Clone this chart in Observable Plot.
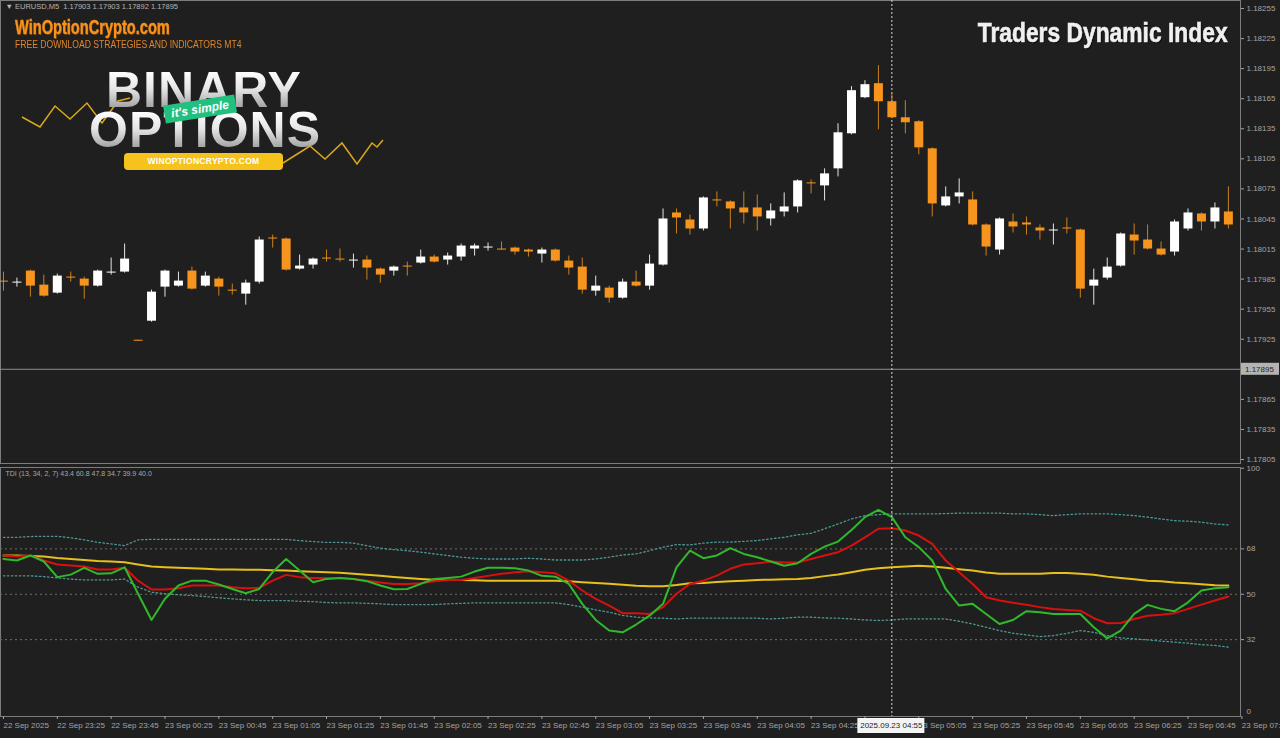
<!DOCTYPE html>
<html>
<head>
<meta charset="utf-8">
<script src="https://cdn.jsdelivr.net/npm/d3@7"></script>
<script src="https://cdn.jsdelivr.net/npm/@observablehq/plot@0.6"></script>
<style>
html,body{margin:0;padding:0;background:#1f1f1f;width:1280px;height:738px;overflow:hidden;}
#wrap{position:relative;width:1280px;height:738px;background:#1f1f1f;}
#top{position:absolute;left:0;top:0;}
#bottom{position:absolute;left:0;top:465px;}
.ov{position:absolute;white-space:nowrap;font-family:'Liberation Sans',Arial,sans-serif;}
#brand{left:15px;top:17px;font-size:20px;line-height:20px;font-weight:bold;color:#f7931e;transform:scaleX(0.73);transform-origin:left;text-shadow:1px 1px 0 #6b3600;-webkit-text-stroke:0.4px #f7931e;}
#sub{left:15px;top:40px;font-size:10px;line-height:10px;color:#e0862a;transform:scaleX(0.86);transform-origin:left;}
.big{font-size:50px;line-height:39px;font-weight:bold;letter-spacing:1px;background:linear-gradient(#ffffff 0%,#e6e6e6 45%,#9a9a9a 100%);-webkit-background-clip:text;background-clip:text;color:transparent;}
#bin{left:106px;top:71px;}
#opt{left:89px;top:111px;}
#tag{left:164px;top:100px;width:72px;height:18px;background:#22c07f;color:#fff;font-size:12px;line-height:18px;font-weight:bold;font-style:italic;text-align:center;transform:rotate(-9deg);}
#btn{left:124px;top:153px;width:159px;height:17px;background:#f6c31c;border-radius:4px;color:#fff;font-size:8.5px;line-height:17px;font-weight:bold;text-align:center;letter-spacing:0.3px;}
#title{right:52px;top:19px;font-size:28px;line-height:28px;font-weight:bold;color:#f0f0f0;transform:scaleX(0.815);transform-origin:right;text-shadow:1px 1px 1px #000;-webkit-text-stroke:0.6px #f0f0f0;}
#zig{position:absolute;left:0;top:0;}
</style>
</head>
<body>
<div id="wrap">
  <div id="top"></div>
  <div id="bottom"></div>
  <svg id="zig" width="400" height="180">
    <polyline points="22,117 40,127 55,106 70,119 87,103 102,123 118,101 130,98" fill="none" stroke="#d9a91a" stroke-width="1.5"/>
    <polyline points="283,163 310,146 325,159 342,143 357,164 372,143 377,147 383,140" fill="none" stroke="#d9a91a" stroke-width="1.5"/>
  </svg>
  <div class="ov" id="brand">WinOptionCrypto.com</div>
  <div class="ov" id="sub">FREE DOWNLOAD STRATEGIES AND INDICATORS MT4</div>
  <div class="ov big" id="bin">BINARY</div>
  <div class="ov big" id="opt">OPTIONS</div>
  <div class="ov" id="tag">it's simple</div>
  <div class="ov" id="btn">WINOPTIONCRYPTO.COM</div>
  <div class="ov" id="title">Traders Dynamic Index</div>
</div>
<script>
// ---- Price data (EURUSD M5), one entry per candle ----
const opens = [1.17983,1.17981,1.17993,1.17979,1.17971,1.17987,1.17985,1.17978,1.17991,1.17992,
1.17924,1.17943,1.17977,1.17978,1.17993,1.17978,1.17985,1.17974,1.17970,1.17982,
1.18026,1.18025,1.17995,1.17999,1.18006,1.18005,1.18003,1.18004,1.17995,1.17993,
1.17998,1.18001,1.18007,1.18004,1.18007,1.18015,1.18016,1.18015,1.18016,1.18014,
1.18010,1.18014,1.18003,1.17997,1.17973,1.17976,1.17966,1.17982,1.17978,1.17999,
1.18051,1.18044,1.18035,1.18064,1.18062,1.18056,1.18056,1.18045,1.18052,1.18057,
1.18081,1.18078,1.18095,1.18130,1.18166,1.18180,1.18162,1.18146,1.18142,1.18115,
1.18058,1.18067,1.18064,1.18039,1.18014,1.18042,1.18041,1.18036,1.18033,1.18036,
1.18034,1.17978,1.17986,1.17998,1.18029,1.18024,1.18015,1.18012,1.18035,1.18050,
1.18042,1.18052];
const highs = [1.17992,1.17986,1.17994,1.17989,1.17990,1.17992,1.17987,1.17994,1.18006,1.18020,
1.17924,1.17974,1.17994,1.17992,1.17997,1.17992,1.17987,1.17980,1.17984,1.18027,
1.18029,1.18026,1.18009,1.18006,1.18014,1.18015,1.18010,1.18008,1.17996,1.17998,
1.18002,1.18014,1.18009,1.18011,1.18020,1.18020,1.18021,1.18022,1.18017,1.18015,
1.18016,1.18015,1.18008,1.18006,1.17988,1.17978,1.17985,1.17993,1.18009,1.18055,
1.18055,1.18049,1.18067,1.18072,1.18063,1.18072,1.18069,1.18060,1.18071,1.18084,
1.18084,1.18095,1.18140,1.18177,1.18183,1.18198,1.18170,1.18163,1.18143,1.18116,
1.18077,1.18085,1.18072,1.18040,1.18046,1.18050,1.18047,1.18039,1.18040,1.18046,
1.18035,1.17995,1.18006,1.18031,1.18040,1.18039,1.18022,1.18044,1.18055,1.18051,
1.18061,1.18077];
const lows = [1.17973,1.17977,1.17967,1.17967,1.17970,1.17982,1.17965,1.17977,1.17989,1.17991,
1.17923,1.17942,1.17967,1.17977,1.17974,1.17977,1.17968,1.17969,1.17959,1.17980,
1.18016,1.17993,1.17994,1.17995,1.18002,1.18002,1.17996,1.17984,1.17981,1.17988,
1.17988,1.18000,1.18001,1.17999,1.18003,1.18008,1.18013,1.18014,1.18009,1.18007,
1.18001,1.18002,1.17989,1.17970,1.17968,1.17961,1.17965,1.17977,1.17974,1.17998,
1.18030,1.18029,1.18033,1.18057,1.18035,1.18040,1.18033,1.18038,1.18047,1.18051,
1.18070,1.18063,1.18087,1.18129,1.18165,1.18134,1.18145,1.18130,1.18109,1.18047,
1.18057,1.18060,1.18038,1.18008,1.18009,1.18031,1.18029,1.18024,1.18019,1.18030,
1.17966,1.17959,1.17984,1.17997,1.18009,1.18014,1.18008,1.18008,1.18033,1.18033,
1.18035,1.18035];
const closes = [1.17982,1.17982,1.17978,1.17968,1.17988,1.17986,1.17978,1.17993,1.17992,1.18005,
1.17923,1.17972,1.17993,1.17983,1.17975,1.17988,1.17977,1.17973,1.17981,1.18024,
1.18025,1.17994,1.17998,1.18005,1.18005,1.18004,1.18004,1.17996,1.17989,1.17997,
1.17997,1.18007,1.18002,1.18008,1.18018,1.18018,1.18017,1.18014,1.18012,1.18012,
1.18014,1.18003,1.17996,1.17974,1.17978,1.17966,1.17982,1.17978,1.18000,1.18045,
1.18046,1.18035,1.18066,1.18063,1.18055,1.18051,1.18047,1.18053,1.18057,1.18083,
1.18080,1.18090,1.18131,1.18173,1.18179,1.18162,1.18146,1.18141,1.18116,1.18060,
1.18067,1.18071,1.18039,1.18017,1.18045,1.18037,1.18039,1.18033,1.18034,1.18035,
1.17975,1.17984,1.17997,1.18030,1.18023,1.18015,1.18009,1.18042,1.18051,1.18042,
1.18056,1.18039];

// ---- TDI (13, 34, 2, 7) series ----
const rsiPriceLine = [64.0,63.4,65.4,63.0,56.8,57.8,60.5,58.1,58.3,60.7,
50.2,39.8,48.2,53.5,55.4,55.4,53.9,52.1,50.4,52.1,
58.8,64.0,59.4,54.8,56.1,56.5,56.1,55.2,53.5,52.0,
52.1,54.1,56.1,56.5,57.0,59.0,60.5,60.5,60.3,59.4,
57.3,57.0,54.1,46.2,39.8,35.6,34.9,38.0,41.5,46.2,
60.7,67.3,64.3,65.4,68.3,66.0,64.7,63.0,61.3,62.3,
66.0,68.9,70.9,75.5,80.6,83.5,80.6,72.6,68.7,63.4,
52.1,45.5,46.2,42.2,38.2,39.8,43.3,42.9,42.2,42.2,
42.2,36.9,32.5,35.6,42.2,45.8,44.2,43.3,46.8,51.5,
52.4,52.8];
const tradeSignalLine = [65.4,65.0,65.4,63.4,61.8,61.4,61.0,59.8,59.8,60.5,
55.4,51.9,51.9,52.4,53.5,53.5,53.5,52.8,52.4,52.5,
55.4,57.7,56.8,56.5,56.5,56.4,56.1,55.4,54.7,54.1,
54.1,54.4,55.2,55.7,55.7,56.5,57.3,58.1,58.7,59.1,
58.7,58.3,55.4,51.5,48.2,45.5,42.5,42.5,42.2,44.9,
50.2,54.1,55.4,57.4,60.1,61.8,62.3,63.0,62.6,62.6,
64.0,65.4,66.7,69.3,72.6,76.0,76.2,75.3,73.3,70.0,
63.4,58.7,54.1,48.8,47.5,46.6,45.8,44.9,44.2,43.8,
43.5,40.5,38.5,38.6,40.2,41.5,41.9,42.5,44.2,45.9,
47.5,49.1];
const marketBaseLine = [65.4,65.4,65.2,65.0,64.4,64.0,63.6,63.2,63.0,62.7,
61.8,61.0,60.7,60.5,60.3,60.1,59.8,59.8,59.7,59.7,
59.5,59.4,59.1,58.9,58.7,58.5,58.1,57.7,57.3,56.9,
56.5,56.1,55.8,55.8,55.7,55.6,55.4,55.4,55.4,55.4,
55.4,55.4,55.2,54.8,54.5,54.2,53.8,53.4,53.2,53.2,
53.7,54.4,54.5,54.9,55.2,55.4,55.7,55.8,56.0,56.1,
56.5,57.2,57.8,58.7,59.7,60.3,60.7,61.0,61.3,61.0,
60.5,59.9,59.4,58.6,58.1,58.1,58.1,58.1,58.4,58.4,
58.1,57.7,57.0,56.5,56.0,55.4,55.2,54.7,54.4,54.0,
53.6,53.5];
const upperVolatilityBand = [72.6,72.6,72.9,73.0,73.0,72.4,71.6,70.6,70.0,69.3,
71.6,71.8,71.8,71.8,71.8,71.8,71.8,71.8,71.8,71.8,
71.8,71.8,71.3,70.9,70.6,70.6,70.3,69.3,68.3,67.7,
67.3,66.7,66.0,65.4,64.7,64.3,64.0,64.0,64.0,64.3,
64.0,63.6,63.6,63.6,64.0,64.7,65.6,66.0,67.3,68.7,
69.7,69.6,70.3,70.7,70.7,71.0,71.3,72.0,72.6,73.6,
74.2,76.0,77.9,79.9,81.2,81.6,81.9,81.9,81.9,81.9,
82.0,82.2,82.2,82.2,82.2,81.9,81.9,81.6,81.2,81.6,
81.9,81.9,81.9,81.6,81.2,80.6,79.9,79.2,79.0,78.6,
77.9,77.5];
const lowerVolatilityBand = [57.3,57.3,57.3,57.0,56.5,56.0,55.7,55.7,55.7,56.0,
52.8,50.8,50.2,49.8,49.5,49.1,48.6,48.2,47.8,47.5,
47.5,47.5,47.2,47.1,46.7,46.6,46.6,46.4,46.2,45.9,
45.9,45.9,45.9,46.2,46.4,46.6,46.6,46.6,46.6,46.6,
46.6,46.6,45.9,44.9,43.8,42.9,41.6,40.9,40.6,40.5,
40.2,40.5,40.5,40.5,40.5,40.5,40.5,40.2,40.5,40.9,
40.9,40.6,40.5,40.2,39.8,39.6,39.8,40.2,40.2,40.2,
40.2,39.3,38.2,36.9,35.6,34.5,33.9,33.2,33.6,34.5,
35.6,34.9,33.6,32.7,32.3,31.9,31.4,31.0,30.6,30.0,
29.7,29.0];

// ---- Axis / label data ----
const timeTickIndex = [0,4,8,12,16,20,24,28,32,36,40,44,48,52,56,60,64,68,72,76,80,84,88,92];
const timeTickLabels = ["22 Sep 2025","22 Sep 23:25","22 Sep 23:45","23 Sep 00:25","23 Sep 00:45","23 Sep 01:05",
"23 Sep 01:25","23 Sep 01:45","23 Sep 02:05","23 Sep 02:25","23 Sep 02:45","23 Sep 03:05","23 Sep 03:25",
"23 Sep 03:45","23 Sep 04:05","23 Sep 04:25","","23 Sep 05:05","23 Sep 05:25","23 Sep 05:45",
"23 Sep 06:05","23 Sep 06:25","23 Sep 06:45","23 Sep 07:05"];
const priceTicks = [1.18255,1.18225,1.18195,1.18165,1.18135,1.18105,1.18075,1.18045,1.18015,1.17985,1.17955,1.17925,1.17895,1.17865,1.17835,1.17805];
const tdiTicks = [100,68,50,32];
const tdiLevels = [68,50,32];
const bidPrice = 1.17895;
const crosshairIndex = 66;
const crosshairLabel = "2025.09.23 04:55";
const symbolHeader = "▼ EURUSD,M5  1.17903 1.17903 1.17892 1.17895";
const tdiHeader = "TDI (13, 34, 2, 7) 43.4 60.8 47.8 34.7 39.9 40.0";

// ---- Build tables ----
const candles = opens.map((o, i) => ({i, open: o, high: highs[i], low: lows[i], close: closes[i], up: closes[i] >= o}));
const tdi = rsiPriceLine.map((v, i) => ({i, rsi: v, signal: tradeSignalLine[i], base: marketBaseLine[i], upper: upperVolatilityBand[i], lower: lowerVolatilityBand[i]}));
const labelOf = new Map(timeTickIndex.map((t, k) => [t, timeTickLabels[k]]));

const xDomain = [-0.22, 91.9];
const UP = "#ffffff", DOWN = "#f7941d";
const axisColor = "#a4a4a4";
const fontFam = "'Liberation Sans', Arial, sans-serif";
const baseStyle = {background: "transparent", color: axisColor, fontFamily: fontFam, fontSize: "8px"};

const topPlot = Plot.plot({
  width: 1280, height: 464,
  marginTop: 0, marginBottom: 1, marginLeft: 0, marginRight: 40,
  style: baseStyle,
  x: {domain: xDomain, axis: null},
  y: {domain: [1.17801, 1.18263]},
  marks: [
    Plot.frame({stroke: "#7c7c7c"}),
    Plot.ruleY([bidPrice], {stroke: "#8e8e8e", strokeWidth: 1}),
    Plot.ruleX([crosshairIndex], {stroke: "#d8d8d8", strokeDasharray: "2,2"}),
    Plot.ruleX(candles, {x: "i", y1: "low", y2: "high", stroke: d => d.up ? "#e4e4e4" : "#c9801c", strokeWidth: 1}),
    Plot.ruleX(candles, {x: "i", y1: "open", y2: "close", stroke: d => d.up ? UP : DOWN, strokeWidth: 9}),
    Plot.axisY({anchor: "right", ticks: priceTicks.filter(t => Math.abs(t - bidPrice) > 1e-9), tickFormat: d => d.toFixed(5), tickSize: 3, tickPadding: 3, label: null, color: axisColor}),
    Plot.text([symbolHeader], {frameAnchor: "top-left", dx: 5, dy: 3, textAnchor: "start", fill: "#b4b4b4", fontSize: 7.5})
  ]
});
document.getElementById("top").appendChild(topPlot);

// bid price box on the right axis
{
  const by = topPlot.scale("y").apply(bidPrice);
  const xr = topPlot.scale("x").range[1];
  const s = d3.select(topPlot);
  s.append("rect").attr("x", xr + 1).attr("y", by - 6).attr("width", 38).attr("height", 12).attr("fill", "#b3b3b3");
  s.append("text").attr("x", xr + 5).attr("y", by).attr("dy", "0.34em").attr("text-anchor", "start").attr("fill", "#262626")
    .attr("font-size", 8).attr("font-family", fontFam).text(bidPrice.toFixed(5));
}

const bottomPlot = Plot.plot({
  width: 1280, height: 273,
  marginTop: 2, marginBottom: 22, marginLeft: 0, marginRight: 40,
  style: baseStyle,
  x: {domain: xDomain},
  y: {domain: [1.5, 100.3]},
  marks: [
    Plot.frame({stroke: "#7c7c7c"}),
    Plot.ruleY(tdiLevels, {stroke: "#6e6e6e", strokeDasharray: "2,3"}),
    Plot.line(tdi, {x: "i", y: "upper", stroke: "#4e9893", strokeWidth: 1.3, strokeDasharray: "1.5,2.5"}),
    Plot.line(tdi, {x: "i", y: "lower", stroke: "#4e9893", strokeWidth: 1.3, strokeDasharray: "1.5,2.5"}),
    Plot.line(tdi, {x: "i", y: "base", stroke: "#e6c01c", strokeWidth: 2}),
    Plot.line(tdi, {x: "i", y: "signal", stroke: "#d8110f", strokeWidth: 2}),
    Plot.line(tdi, {x: "i", y: "rsi", stroke: "#2fb92b", strokeWidth: 2}),
    Plot.ruleX([crosshairIndex], {stroke: "#d8d8d8", strokeDasharray: "2,2"}),
    Plot.axisY({anchor: "right", ticks: tdiTicks, tickSize: 3, tickPadding: 3, label: null, color: axisColor}),
    Plot.text(["0"], {frameAnchor: "bottom-right", dx: 6, dy: -3, textAnchor: "start", fill: axisColor}),
    Plot.axisX({ticks: timeTickIndex, tickFormat: d => labelOf.get(d), tickSize: 3, tickPadding: 3, textAnchor: "start", label: null, color: axisColor}),
    Plot.text([tdiHeader], {frameAnchor: "top-left", dx: 5, dy: 4, textAnchor: "start", fill: "#a8a8a8", fontSize: 7})
  ]
});
document.getElementById("bottom").appendChild(bottomPlot);

// crosshair time label
{
  const cx = bottomPlot.scale("x").apply(crosshairIndex);
  const s = d3.select(bottomPlot);
  s.append("rect").attr("x", cx - 34).attr("y", 253).attr("width", 67).attr("height", 15).attr("fill", "#f4f4f4");
  s.append("text").attr("x", cx).attr("y", 260.5).attr("dy", "0.34em").attr("text-anchor", "middle").attr("fill", "#1c1c1c")
    .attr("font-size", 8).attr("font-family", fontFam).text(crosshairLabel);
}
</script>
</body>
</html>
